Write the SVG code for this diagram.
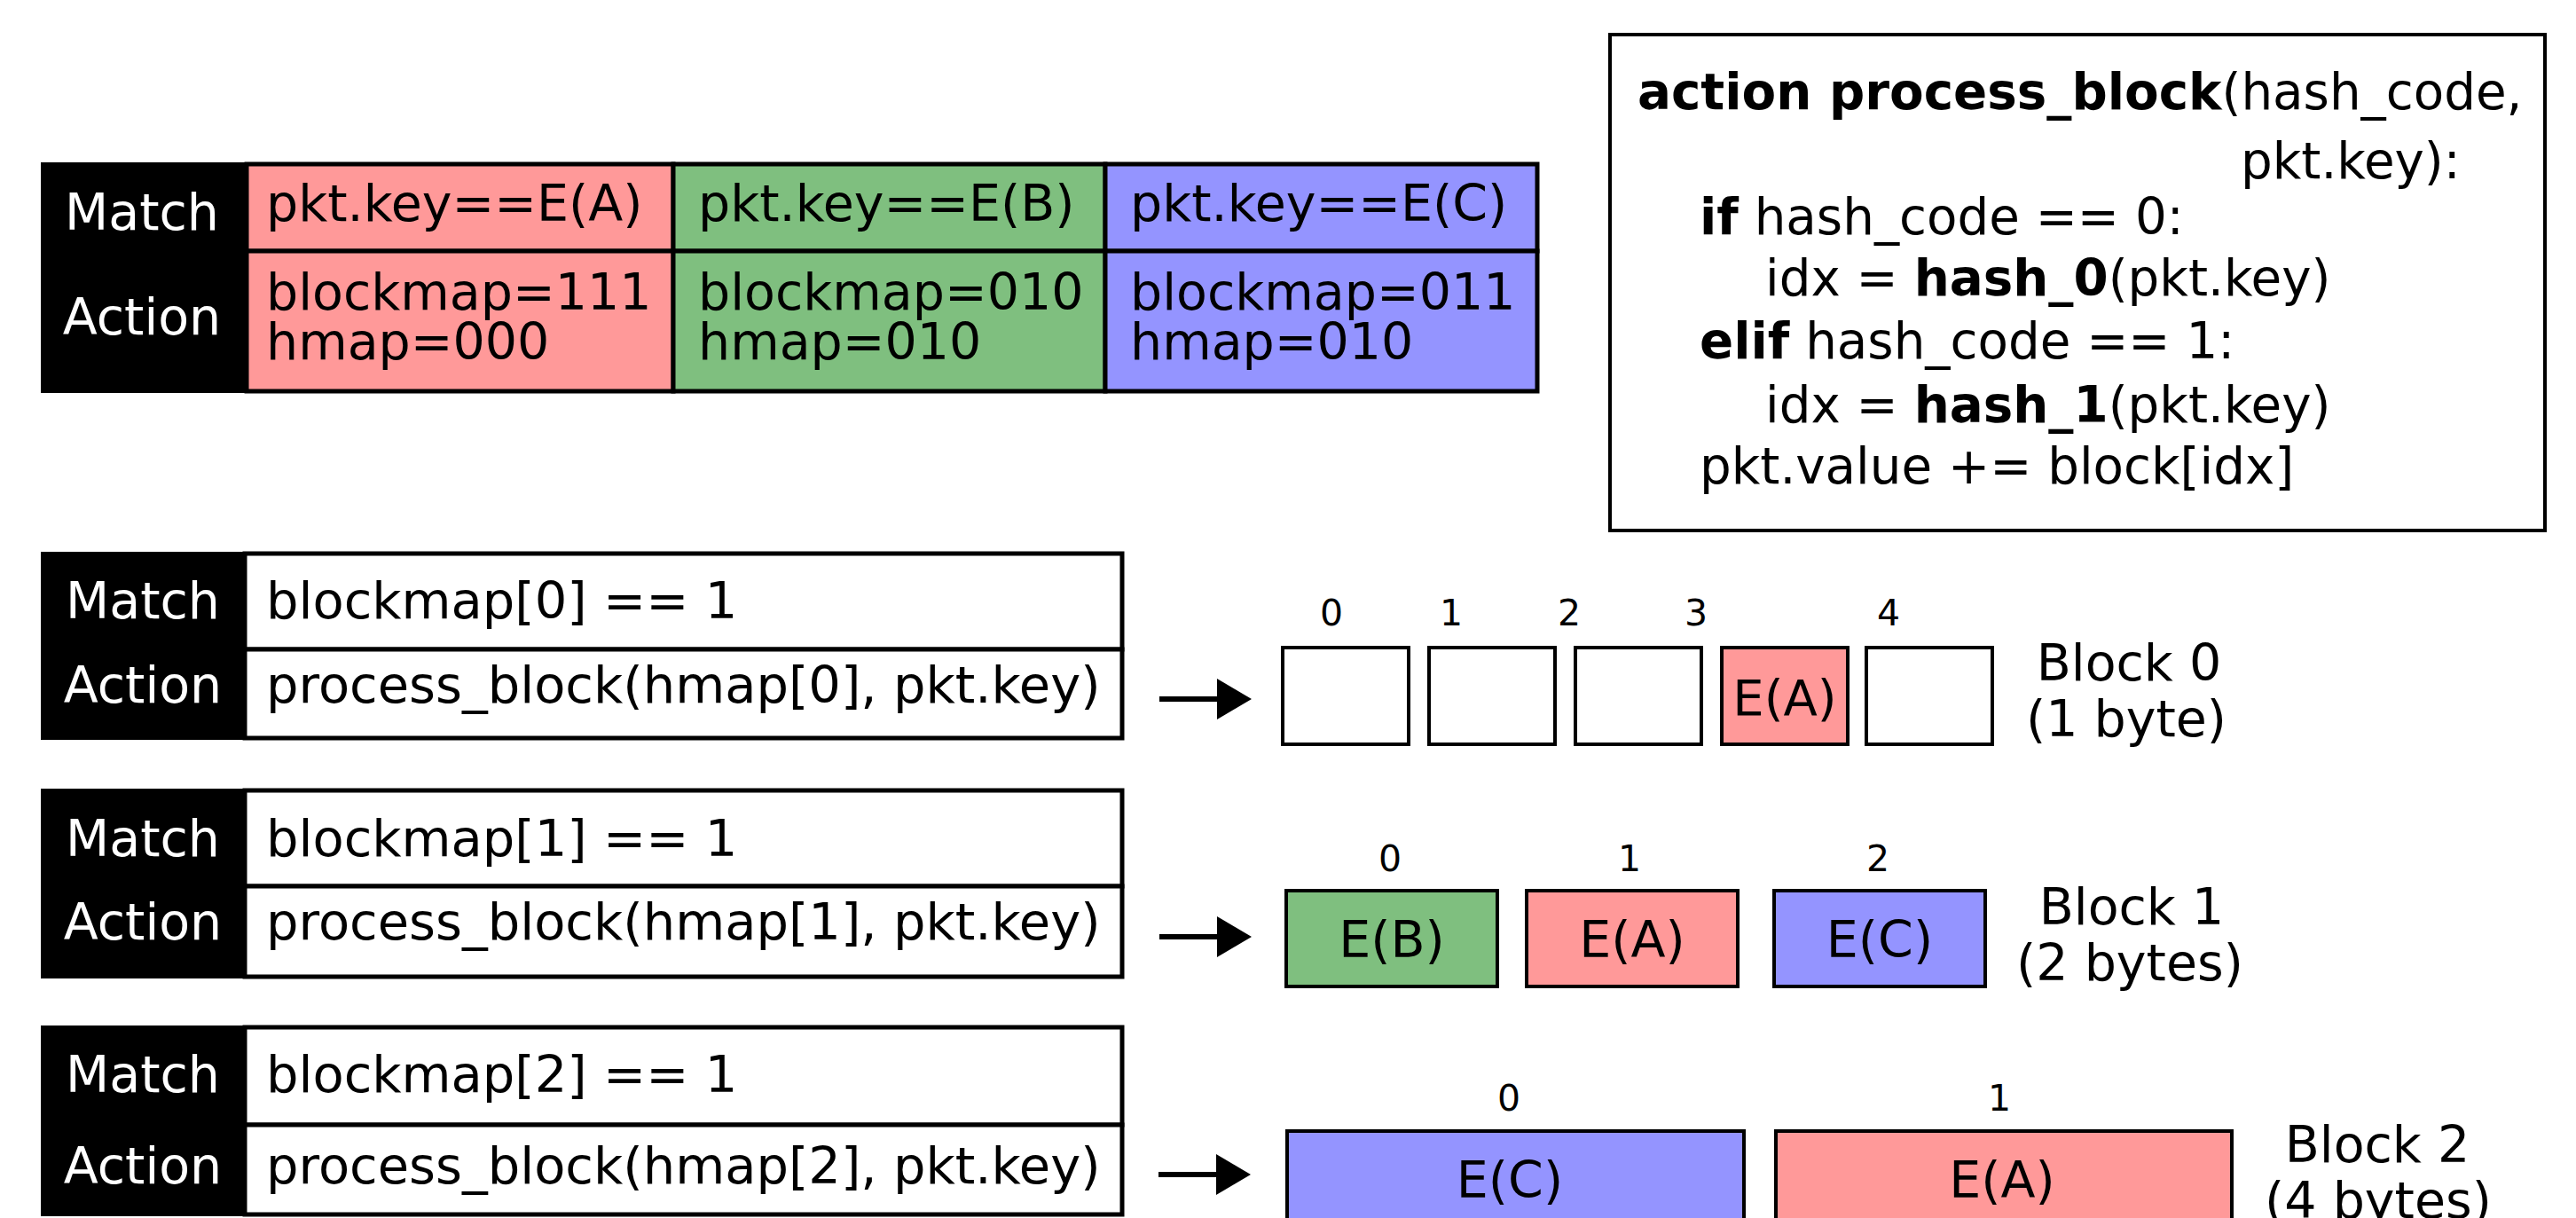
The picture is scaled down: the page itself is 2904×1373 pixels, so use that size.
<svg xmlns="http://www.w3.org/2000/svg" width="2904" height="1373" viewBox="0 0 2904 1373">
<defs>
<style>
text{font-family:"DejaVu Sans","Liberation Sans",sans-serif;font-size:57px;fill:#000}
.lbl{fill:#fff;text-anchor:middle}
.c{text-anchor:middle}
.idx{font-size:41px;text-anchor:middle}
.code{font-size:56.3px}
.row{font-size:57.5px}
.cell{stroke:#000;stroke-width:5}
.box{stroke:#000;stroke-width:4}
.blk{fill:#000}
.pink{fill:#ff9999}
.green{fill:#7fbf7f}
.blue{fill:#9494ff}
.white{fill:#fff}
.b{font-weight:bold}
.arrow{stroke:#000;stroke-width:6;fill:none}
</style>
<marker id="ah" markerUnits="userSpaceOnUse" markerWidth="40" markerHeight="46" viewBox="0 0 40 46" refX="0" refY="23" orient="auto">
<path d="M0,0 L39,23 L0,46 Z" fill="#000"/>
</marker>
</defs>
<rect width="2904" height="1373" fill="#fff"/>

<g id="rule-table">
<rect class="cell pink" x="278" y="185" width="481" height="98"/>
<rect class="cell green" x="759" y="185" width="487" height="98"/>
<rect class="cell blue" x="1246" y="185" width="487" height="98"/>
<rect class="cell pink" x="278" y="283" width="481" height="158"/>
<rect class="cell green" x="759" y="283" width="487" height="158"/>
<rect class="cell blue" x="1246" y="283" width="487" height="158"/>
<rect class="blk" x="46" y="183" width="232" height="260"/>
<text class="lbl" x="160" y="259">Match</text>
<text class="lbl" x="160" y="377">Action</text>
<text x="300" y="249">pkt.key==E(A)</text>
<text x="787" y="249">pkt.key==E(B)</text>
<text x="1274" y="249">pkt.key==E(C)</text>
<text x="300" y="349">blockmap=111</text>
<text x="300" y="405">hmap=000</text>
<text x="787" y="349">blockmap=010</text>
<text x="787" y="405">hmap=010</text>
<text x="1274" y="349">blockmap=011</text>
<text x="1274" y="405">hmap=010</text>
</g>

<g id="code-box">
<rect class="box white" x="1815" y="39" width="1054" height="559"/>
<text class="code" x="1846" y="123"><tspan class="b">action process_block</tspan>(hash_code,</text>
<text class="code" x="2526" y="201">pkt.key):</text>
<text class="code" x="1916" y="264"><tspan class="b">if</tspan> hash_code == 0:</text>
<text class="code" x="1990" y="333">idx = <tspan class="b">hash_0</tspan>(pkt.key)</text>
<text class="code" x="1916" y="404"><tspan class="b">elif</tspan> hash_code == 1:</text>
<text class="code" x="1990" y="476">idx = <tspan class="b">hash_1</tspan>(pkt.key)</text>
<text class="code" x="1916" y="545">pkt.value += block[idx]</text>
</g>

<g id="table-0">
<rect class="cell white" x="276" y="624" width="989" height="108"/>
<rect class="cell white" x="276" y="732" width="989" height="100"/>
<rect class="blk" x="46" y="622" width="230" height="212"/>
<text class="lbl" x="161" y="697">Match</text>
<text class="lbl" x="161" y="792">Action</text>
<text class="row" x="300" y="697">blockmap[0] == 1</text>
<text class="row" x="300" y="792">process_block(hmap[0], pkt.key)</text>
</g>

<g id="table-1">
<rect class="cell white" x="276" y="891" width="989" height="108"/>
<rect class="cell white" x="276" y="999" width="989" height="102"/>
<rect class="blk" x="46" y="889" width="230" height="214"/>
<text class="lbl" x="161" y="965">Match</text>
<text class="lbl" x="161" y="1059">Action</text>
<text class="row" x="300" y="965">blockmap[1] == 1</text>
<text class="row" x="300" y="1059">process_block(hmap[1], pkt.key)</text>
</g>

<g id="table-2">
<rect class="cell white" x="276" y="1158" width="989" height="110"/>
<rect class="cell white" x="276" y="1268" width="989" height="101"/>
<rect class="blk" x="46" y="1156" width="230" height="215"/>
<text class="lbl" x="161" y="1231">Match</text>
<text class="lbl" x="161" y="1334">Action</text>
<text class="row" x="300" y="1231">blockmap[2] == 1</text>
<text class="row" x="300" y="1334">process_block(hmap[2], pkt.key)</text>
</g>

<g id="block-0">
<rect class="box white" x="1446" y="730" width="142" height="109"/>
<rect class="box white" x="1611" y="730" width="142" height="109"/>
<rect class="box white" x="1776" y="730" width="142" height="109"/>
<rect class="box pink" x="1941" y="730" width="142" height="109"/>
<rect class="box white" x="2104" y="730" width="142" height="109"/>
<text class="idx" x="1501" y="705">0</text>
<text class="idx" x="1636" y="705">1</text>
<text class="idx" x="1769" y="705">2</text>
<text class="idx" x="1912" y="705">3</text>
<text class="idx" x="2129" y="705">4</text>
<text class="c" x="2012" y="806" style="font-size:56px">E(A)</text>
<text class="c" x="2400" y="767">Block 0</text>
<text class="c" x="2397" y="830">(1 byte)</text>
</g>

<g id="block-1">
<rect class="box green" x="1450" y="1004" width="238" height="108"/>
<rect class="box pink" x="1721" y="1004" width="238" height="108"/>
<rect class="box blue" x="2000" y="1004" width="238" height="108"/>
<text class="idx" x="1567" y="982">0</text>
<text class="idx" x="1837" y="982">1</text>
<text class="idx" x="2117" y="982">2</text>
<text class="c" x="1569" y="1079">E(B)</text>
<text class="c" x="1840" y="1079">E(A)</text>
<text class="c" x="2119" y="1079">E(C)</text>
<text class="c" x="2403" y="1042">Block 1</text>
<text class="c" x="2401" y="1105">(2 bytes)</text>
</g>

<g id="block-2">
<rect class="box blue" x="1451" y="1275" width="515" height="110"/>
<rect class="box pink" x="2002" y="1275" width="514" height="110"/>
<text class="idx" x="1701" y="1252">0</text>
<text class="idx" x="2254" y="1252">1</text>
<text class="c" x="1702" y="1350">E(C)</text>
<text class="c" x="2257" y="1350">E(A)</text>
<text class="c" x="2680" y="1310">Block 2</text>
<text class="c" x="2681" y="1373">(4 bytes)</text>
</g>

<g id="connectors">
<line class="arrow" x1="1307" y1="788" x2="1372" y2="788" marker-end="url(#ah)"/>
<line class="arrow" x1="1307" y1="1056" x2="1372" y2="1056" marker-end="url(#ah)"/>
<line class="arrow" x1="1306" y1="1324" x2="1371" y2="1324" marker-end="url(#ah)"/>
</g>
</svg>
